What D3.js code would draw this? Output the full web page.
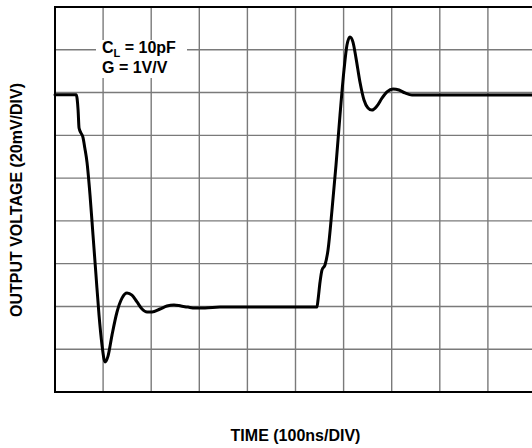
<!DOCTYPE html>
<html>
<head>
<meta charset="utf-8">
<script src="https://cdn.jsdelivr.net/npm/d3@7"></script>
<style>
  html, body { margin: 0; padding: 0; background: #fff; overflow: hidden; }
  svg { display: block; }
  text { font-family: "Liberation Sans", Arial, Helvetica, sans-serif; font-weight: bold; fill: #000; }
</style>
</head>
<body>
<script>
// Time in ns (100 ns/div), output voltage in mV (20 mV/div)
const timeNs = [0, 44, 48, 50, 54, 58, 62, 66.5, 72.8, 79, 85.2, 91.5, 97.7, 104, 110.2, 118.5, 128.9, 139.3, 149.7, 160, 170.5, 180.9, 191.3, 201.7, 218.3, 232.8, 247.4, 262, 276.5, 291, 311.9, 343, 544.7, 546.8, 551, 555, 561.3, 567.6, 575.9, 584.2, 592.5, 600.8, 607, 613.3, 619.5, 625.8, 634, 642.4, 650.7, 659, 669.4, 679.8, 690.2, 702.7, 715.2, 727.7, 742.2, 758.8, 1000];
const outputMv = [139, 139, 131.8, 123.4, 121.1, 119.2, 114.1, 107.5, 92.1, 73.4, 54.7, 36, 22, 14, 16.8, 26.6, 37.4, 43.9, 46.3, 45.3, 42.1, 38.8, 37.4, 37.4, 38.8, 40.2, 40.7, 40.2, 39.7, 39.3, 39.3, 39.7, 39.7, 43, 51.4, 57, 59.4, 66.4, 85.1, 106.1, 129.5, 150.5, 162.2, 166, 163.6, 156.1, 144.9, 136.5, 132.8, 131.8, 133.7, 137.4, 140.3, 141.7, 141.2, 139.8, 138.8, 138.8, 138.8];
const timeTicks = [0, 100, 200, 300, 400, 500, 600, 700, 800, 900, 1000];
const voltTicks = [0, 20, 40, 60, 80, 100, 120, 140, 160, 180];
const xTitle = "TIME (100ns/DIV)";
const yTitle = "OUTPUT VOLTAGE (20mV/DIV)";
const noteLines = [["C", "L", " = 10pF"], ["G = 1V/V"]];

(function () {
const W = 532, H = 448;
const pLeft = 55, pRight = 536, pTop = 7, pBottom = 392;

const svg = d3.select("body").append("svg").attr("width", W).attr("height", H);

const x = d3.scaleLinear().domain([0, 1000]).range([pLeft, pRight]);
const y = d3.scaleLinear().domain([0, 180]).range([pBottom, pTop]);

// grid
const grid = svg.append("g");
grid.selectAll("line.v").data(timeTicks.slice(1, -1)).join("line")
  .attr("x1", d => x(d)).attr("x2", d => x(d))
  .attr("y1", pTop).attr("y2", pBottom)
  .attr("stroke", "#7a7a7a").attr("stroke-width", 1.4);
grid.selectAll("line.h").data(voltTicks.slice(1)).join("line")
  .attr("x1", pLeft).attr("x2", pRight)
  .attr("y1", d => y(d)).attr("y2", d => y(d))
  .attr("stroke", "#7a7a7a").attr("stroke-width", 1.4);

// annotation background
svg.append("rect").attr("x", 96).attr("y", 40).attr("width", 91).attr("height", 38).attr("fill", "#fff");

// frame
svg.append("rect").attr("x", pLeft).attr("y", pTop)
  .attr("width", pRight - pLeft).attr("height", pBottom - pTop)
  .attr("fill", "none").attr("stroke", "#000").attr("stroke-width", 2);

// trace
const pts = timeNs.map((t, i) => [t, outputMv[i]]);
const line = d3.line().x(d => x(d[0])).y(d => y(d[1])).curve(d3.curveMonotoneX);
svg.append("path").attr("d", line(pts))
  .attr("fill", "none").attr("stroke", "#000").attr("stroke-width", 3)
  .attr("stroke-linejoin", "round").attr("stroke-linecap", "round");

// annotation text
const t1 = svg.append("text").attr("x", 102).attr("y", 53).attr("font-size", 16);
t1.append("tspan").text(noteLines[0][0]);
t1.append("tspan").attr("font-size", 11).attr("dy", 4).text(noteLines[0][1]);
t1.append("tspan").attr("dy", -4).text(noteLines[0][2]);
svg.append("text").attr("x", 102).attr("y", 73).attr("font-size", 16).text(noteLines[1][0]);

// axis titles
svg.append("text").attr("x", (pLeft + pRight) / 2).attr("y", 441)
  .attr("text-anchor", "middle").attr("font-size", 16).text(xTitle);
svg.append("text").attr("transform", "translate(22,200) rotate(-90)")
  .attr("text-anchor", "middle").attr("font-size", 16).text(yTitle);
})();
</script>
</body>
</html>
